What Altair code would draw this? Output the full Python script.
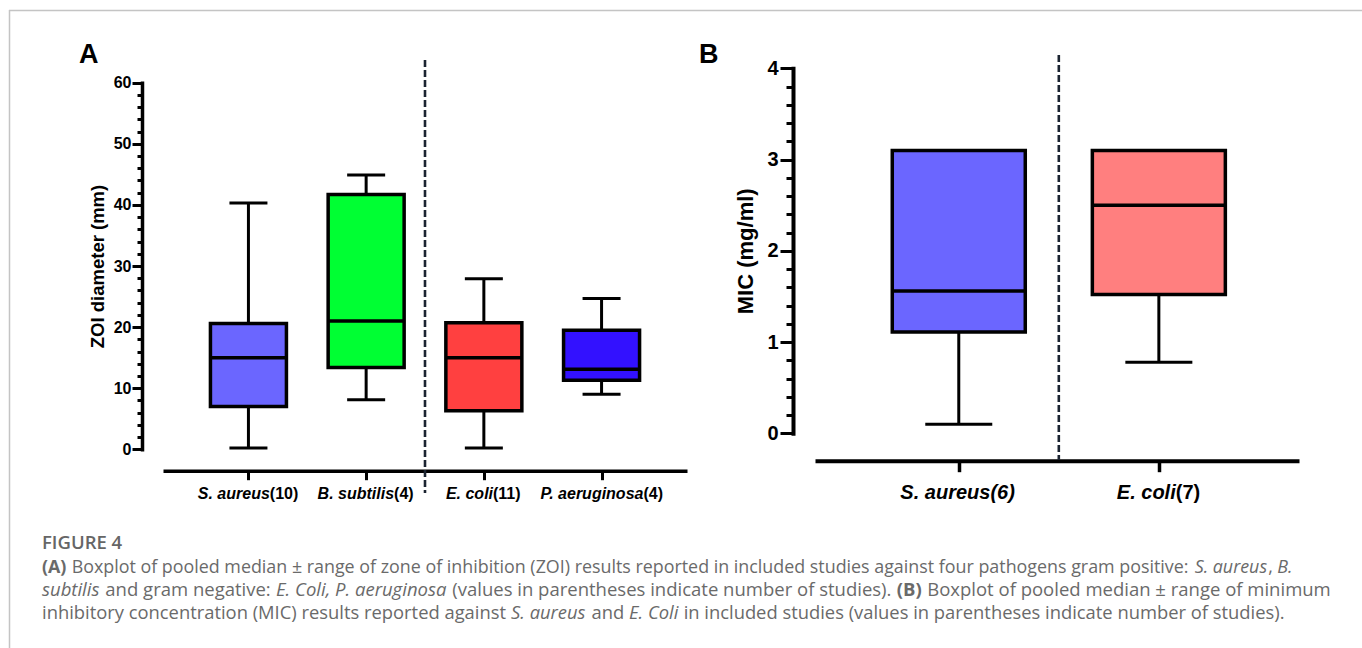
import altair as alt
import pandas as pd

# ---------------- data ----------------
# Panel A: zone of inhibition (mm)
a_names = ["S. aureus", "B. subtilis", "E. coli", "P. aeruginosa"]
a_counts = ["(10)", "(4)", "(11)", "(4)"]
a_count_italic = [False, False, False, False]
a_min = [0.2, 8.1, 0.2, 9.0]
a_q1 = [7.0, 13.4, 6.3, 11.3]
a_med = [15.0, 21.0, 15.0, 13.1]
a_q3 = [20.6, 41.7, 20.7, 19.5]
a_max = [40.3, 44.9, 27.9, 24.7]
a_colors = ["#6B66FF", "#00FF33", "#FF4040", "#3311FF"]

# Panel B: MIC (mg/ml)
b_names = ["S. aureus ", "E. coli "]
b_labels = ["S. aureus", "E. coli"]
b_counts = ["(6)", "(7)"]
b_count_italic = [True, False]
b_min = [0.10, 0.78]
b_q1 = [1.11, 1.52]
b_med = [1.56, 2.50]
b_q3 = [3.10, 3.10]
b_max = [3.10, 3.10]
b_colors = ["#6B66FF", "#FF7F7F"]

caption_title = "FIGURE 4"
caption_lines = [
    [("(A)", "bold"),
     (" Boxplot of pooled median \u00b1 range of zone of inhibition (ZOI) results reported in included studies against four pathogens gram positive: ", "regular"),
     ("S. aureus", "italic"), (", ", "regular"), ("B.", "italic")],
    [("subtilis", "italic"), (" and gram negative: ", "regular"),
     ("E. Coli, P. aeruginosa", "italic"),
     (" (values in parentheses indicate number of studies). ", "regular"),
     ("(B)", "bold"), (" Boxplot of pooled median \u00b1 range of minimum", "regular")],
    [("inhibitory concentration (MIC) results reported against ", "regular"),
     ("S. aureus", "italic"), (" and ", "regular"), ("E. Coli", "italic"),
     (" in included studies (values in parentheses indicate number of studies).", "regular")],
]
caption_line_ends = [1293, 1332, 1285]

# ---------------- text metrics helpers ----------------
ARIAL_BOLD = {' ': 278, '(': 333, ')': 333, '.': 278, ',': 278}
for d in "0123456789":
    ARIAL_BOLD[d] = 556
ARIAL_BOLD.update(dict(A=722, B=722, C=722, D=722, E=667, F=611, G=778, H=722, I=278,
                       M=833, O=778, P=667, S=667, Z=611, a=556, b=611, c=556, d=611,
                       e=556, f=333, g=611, h=611, i=278, j=278, k=556, l=278, m=889,
                       n=611, o=611, p=611, q=611, r=389, s=556, t=333, u=611, v=556,
                       w=778, x=556, y=556, z=500))


def arial_w(s, fs):
    return sum(ARIAL_BOLD.get(c, 556) for c in s) / 1000.0 * fs


OPEN = {' ': 532, '(': 596, ')': 596, ',': 502, '.': 545, ':': 545, '/': 752,
        '-': 659, '\u00b1': 1171}
OPEN.update(dict(A=1296, B=1327, C=1292, D=1493, E=1139, F=1057, G=1491, H=1511, I=571,
                 J=547, K=1257, L=1073, M=1849, N=1544, O=1595, P=1233, Q=1595, R=1266,
                 S=1104, T=1122, U=1520, V=1233, W=1890, X=1198, Y=1155, Z=1165,
                 a=1139, b=1255, c=975, d=1255, e=1149, f=694, g=1122, h=1257, i=518,
                 j=518, k=1075, l=518, m=1905, n=1257, o=1237, p=1255, q=1255, r=836,
                 s=977, t=723, u=1257, v=1026, w=1593, x=1073, y=1028, z=977))
OPEN_BOLD = {'(': 694, ')': 694, 'A': 1479, 'B': 1458}
ITALIC_FACTOR = 0.96


def open_w(s, style, fs):
    tot = 0
    for c in s:
        if style == "bold" and c in OPEN_BOLD:
            tot += OPEN_BOLD[c]
        else:
            tot += OPEN.get(c, 1100)
    if style == "italic":
        tot *= ITALIC_FACTOR
    return tot / 2048.0 * fs


# ---------------- panel builder ----------------
def panel(names, labels, counts, count_it, lo, q1, med, q3, hi, colors,
          xscale, px_per_unit, yscale, yaxis, xaxis, box_w, cap_w,
          sep_pos, sep_top, sep_bot, label_fs, label_y):
    n = len(names)
    df = pd.DataFrame({"pos": list(range(1, n + 1)), "name": names,
                       "lo": lo, "q1": q1, "med": med, "q3": q3, "hi": hi})
    X = alt.X("pos:Q", scale=xscale, axis=xaxis)

    def Y(f):
        return alt.Y(f + ":Q", scale=yscale, axis=yaxis)

    color = alt.Color("name:N", scale=alt.Scale(domain=names, range=colors), legend=None)
    base = alt.Chart(df)
    wl = base.mark_rule(color="black", strokeWidth=3).encode(x=X, y=Y("lo"), y2="q1")
    wh = base.mark_rule(color="black", strokeWidth=3).encode(x=X, y=Y("q3"), y2="hi")
    box = base.mark_bar(size=box_w, stroke="black", strokeWidth=3.5, opacity=1).encode(
        x=X, y=Y("q1"), y2="q3", color=color)
    md = base.mark_tick(orient="horizontal", size=box_w, thickness=3.5, color="black",
                        opacity=1).encode(x=X, y=Y("med"))
    cl = base.mark_tick(orient="horizontal", size=cap_w, thickness=3, color="black",
                        opacity=1).encode(x=X, y=Y("lo"))
    ch = base.mark_tick(orient="horizontal", size=cap_w, thickness=3, color="black",
                        opacity=1).encode(x=X, y=Y("hi"))
    sep = alt.Chart(pd.DataFrame({"pos": [sep_pos]})).mark_rule(
        color="#1b2431", strokeWidth=2.6, strokeDash=[7, 3]).encode(
        x=X, y=alt.value(sep_top), y2=alt.value(sep_bot))

    # category labels: italic name + (count)
    rows = []
    for i in range(n):
        it = labels[i] + (counts[i] if count_it[i] else "")
        up = "" if count_it[i] else counts[i]
        shift = (arial_w(it, label_fs) - arial_w(up, label_fs)) / 2.0
        rows.append({"pos": i + 1 + shift / px_per_unit, "it": it, "up": up})
    ldf = pd.DataFrame(rows)
    lab_it = alt.Chart(ldf).mark_text(
        font="Liberation Sans", fontWeight="bold", fontStyle="italic", fontSize=label_fs,
        align="right", baseline="alphabetic", color="black").encode(
        x=X, y=alt.value(label_y), text="it:N")
    lab_up = alt.Chart(ldf).mark_text(
        font="Liberation Sans", fontWeight="bold", fontSize=label_fs,
        align="left", baseline="alphabetic", color="black").encode(
        x=X, y=alt.value(label_y), text="up:N")
    return alt.layer(sep, wl, wh, box, md, cl, ch, lab_it, lab_up)


# ---------- Panel A ----------
A_x0, A_x1 = 163, 687
A_ppu = 120.0
xsA = alt.Scale(domain=[1 - (245 - A_x0) / A_ppu, 4 + (A_x1 - 605) / A_ppu],
                range=[A_x0, A_x1], nice=False, zero=False)
ysA = alt.Scale(domain=[0, 60], range=[449.3, 82.7], nice=False, zero=False)
yaxA = alt.Axis(
    orient="left", offset=-142, values=list(range(0, 61, 2)),
    labelExpr="datum.value % 10 == 0 ? datum.label : ''",
    tickSize={"condition": {"test": "datum.value % 10 == 0", "value": 10}, "value": 5},
    tickWidth=3, tickColor="black", domainWidth=3.5, domainColor="black",
    domainCap="square", labelFont="Liberation Sans", labelFontWeight="bold",
    labelFontSize=16, labelColor="black", labelPadding=1, labelOverlap=False,
    labelFlush=False, grid=False, title="ZOI diameter (mm)",
    titleFont="Liberation Sans", titleFontSize=18.5, titleFontWeight="bold",
    titleColor="black", titleX=-45, titleBaseline="middle")
xaxA = alt.Axis(orient="bottom", offset=-177.3, values=[1, 2, 3, 4], labels=False,
                tickSize=9, tickWidth=3, tickColor="black", domainWidth=3.5,
                domainColor="black", grid=False, title=None)
panelA = panel(a_names, a_names, a_counts, a_count_italic, a_min, a_q1, a_med, a_q3,
               a_max, a_colors, xsA, A_ppu, ysA, yaxA, xaxA, 76, 38, 2.5, 60, 493, 16, 499)

# ---------- Panel B ----------
B_x0, B_x1 = 815, 1299
B_ppu = 1161 - 956.7
xsB = alt.Scale(domain=[1 - (956.7 - B_x0) / B_ppu, 2 + (B_x1 - 1161) / B_ppu],
                range=[B_x0, B_x1], nice=False, zero=False)
ysB = alt.Scale(domain=[0, 4], range=[433.3, 68.3], nice=False, zero=False)
MAJ_B = "abs(datum.value - round(datum.value)) < 0.01"
yaxB = alt.Axis(
    orient="left", offset=-793, values=[round(i * 0.2, 1) for i in range(21)],
    labelExpr=MAJ_B + " ? format(round(datum.value), 'd') : ''",
    tickSize={"condition": {"test": MAJ_B, "value": 13}, "value": 7},
    tickWidth=3, tickColor="black", domainWidth=4, domainColor="black",
    domainCap="square", labelFont="Liberation Sans", labelFontWeight="bold",
    labelFontSize=20, labelColor="black", labelPadding=2, labelOverlap=False,
    labelFlush=False, grid=False, title="MIC (mg/ml)",
    titleFont="Liberation Sans", titleFontSize=22, titleFontWeight="bold",
    titleColor="black", titleX=-48, titleBaseline="middle")
xaxB = alt.Axis(orient="bottom", offset=460.7 - 648, values=[1, 2], labels=False,
                tickSize=11, tickWidth=3.5, tickColor="black", domainWidth=4,
                domainColor="black", grid=False, title=None)
panelB = panel(b_names, b_labels, b_counts, b_count_italic, b_min, b_q1, b_med, b_q3,
               b_max, b_colors, xsB, B_ppu, ysB, yaxB, xaxB, 133, 67, 1.5, 55, 460, 20, 499)

# ---------- decorations: frame, panel letters ----------
frame_top = alt.Chart(pd.DataFrame({"k": [0]})).mark_rule(
    color="#c4c4c4", strokeWidth=1.5).encode(
    x=alt.value(9), x2=alt.value(1362), y=alt.value(10.5))
frame_left = alt.Chart(pd.DataFrame({"k": [0]})).mark_rule(
    color="#c4c4c4", strokeWidth=1.5).encode(
    x=alt.value(9.5), y=alt.value(10), y2=alt.value(648))

letters = pd.DataFrame({"t": ["A", "B"], "lx": [79, 699], "ly": [63, 63]})
letter_layer = alt.Chart(letters).mark_text(
    font="Liberation Sans", fontWeight="bold", fontSize=27, align="left",
    baseline="alphabetic", color="black").encode(
    x=alt.X("lx:Q", scale=None, axis=None), y=alt.Y("ly:Q", scale=None, axis=None),
    text="t:N")

# ---------- caption ----------
cap_x0 = 42
baselines = [572.5, 595.5, 619]
segs = []
for li, line in enumerate(caption_lines):
    units = sum(open_w(t, s, 1.0) for t, s in line)
    fs = (caption_line_ends[li] - cap_x0) / units
    x = cap_x0
    for text, style in line:
        lead = len(text) - len(text.lstrip(" "))
        xs = x + open_w(" " * lead, "regular", fs)
        if text.strip():
            segs.append({"cx": xs, "cy": baselines[li], "txt": text.strip(),
                         "st": style, "fs": fs})
        x += open_w(text, style, fs)
segdf = pd.DataFrame(segs)

cap_layers = []
for st, wt, fst in [("regular", "normal", "normal"), ("bold", "bold", "normal"),
                    ("italic", "normal", "italic")]:
    sub = segdf[segdf["st"] == st]
    cap_layers.append(alt.Chart(sub).mark_text(
        font="Open Sans", fontWeight=wt, fontStyle=fst,
        align="left", baseline="alphabetic", color="#6a6a6a").encode(
        x=alt.X("cx:Q", scale=None, axis=None), y=alt.Y("cy:Q", scale=None, axis=None),
        size=alt.Size("fs:Q", scale=None, legend=None),
        text="txt:N"))

fig_title = alt.Chart(pd.DataFrame({"t": [caption_title]})).mark_text(
    font="Open Sans", fontSize=18.5, fontWeight=600, align="left",
    baseline="alphabetic", color="#666666").encode(
    x=alt.value(cap_x0), y=alt.value(549), text="t:N")

chart = alt.layer(
    frame_top, frame_left, panelA, panelB, letter_layer, fig_title, *cap_layers
).resolve_scale(x="independent", y="independent", color="independent").resolve_axis(
    x="independent", y="independent"
).properties(
    width=1362, height=648, padding=0, autosize=alt.AutoSizeParams(type="none"),
    background="white"
).configure_view(stroke=None)

chart.save("out.html", embed_options={"renderer": "svg", "actions": False})
